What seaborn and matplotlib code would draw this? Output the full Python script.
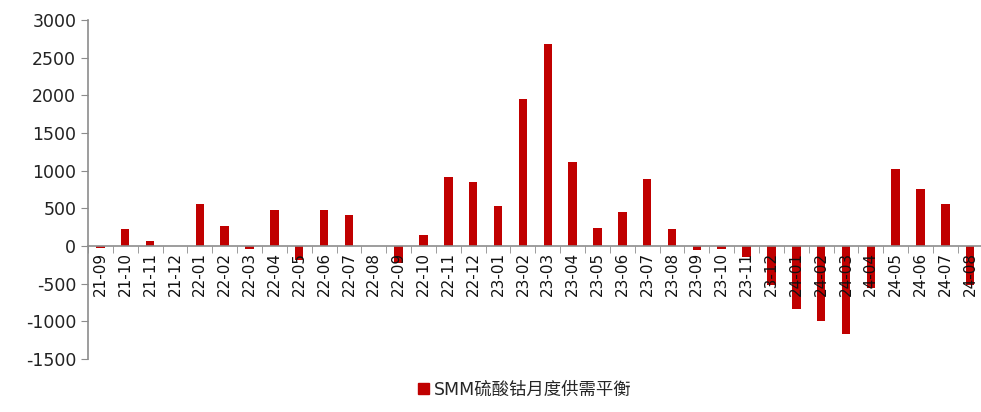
import numpy as np
import pandas as pd
import seaborn as sns
import matplotlib.pyplot as plt
from matplotlib.patches import Patch

months = [
    "21-09", "21-10", "21-11", "21-12",
    "22-01", "22-02", "22-03", "22-04", "22-05", "22-06", "22-07", "22-08",
    "22-09", "22-10", "22-11", "22-12",
    "23-01", "23-02", "23-03", "23-04", "23-05", "23-06", "23-07", "23-08",
    "23-09", "23-10", "23-11", "23-12",
    "24-01", "24-02", "24-03", "24-04", "24-05", "24-06", "24-07", "24-08",
]
balance = [
    -30, 220, 60, 0,
    560, 260, -40, 475, -180, 475, 410, 0,
    -230, 145, 920, 855,
    535, 1955, 2690, 1120, 240, 445, 890, 220,
    -60, -40, -150, -520,
    -840, -1000, -1170, -565, 1020, 760, 560, -520,
]
series_name = "SMM硫酸钴月度供需平衡"


def main() -> None:
    sns.set_style("white")
    plt.rcParams["font.family"] = ["DejaVu Sans", "Noto Sans CJK SC"]
    plt.rcParams["axes.unicode_minus"] = False

    df = pd.DataFrame({"month": months, "balance": balance})
    red = "#C00000"
    grey = "#8C8C8C"

    fig = plt.figure(figsize=(9.81, 4.12), dpi=100)
    ax = fig.add_axes([0.0897, 0.129, 0.912, 0.822])

    sns.barplot(data=df, x="month", y="balance", color=red, width=0.34,
                saturation=1, linewidth=0, ax=ax)

    ax.set_ylim(-1500, 3000)
    ax.set_yticks(np.arange(-1500, 3001, 500))
    ax.set_xlim(-0.5, len(months) - 0.5)
    ax.set_axisbelow(False)

    for side in ("top", "right"):
        ax.spines[side].set_visible(False)
    ax.spines["left"].set_color(grey)
    ax.spines["left"].set_linewidth(1.2)
    ax.spines["bottom"].set_position(("data", 0))
    ax.spines["bottom"].set_color(grey)
    ax.spines["bottom"].set_linewidth(1.2)

    ax.tick_params(axis="y", direction="out", length=5, color=grey,
                   labelsize=12.5, labelcolor="#222222", left=True)
    ax.tick_params(axis="x", which="major", length=0, labelsize=11,
                   labelrotation=90, pad=4, labelcolor="#111111")
    ax.set_xticks(np.arange(-0.5, len(months), 1), minor=True)
    ax.tick_params(axis="x", which="minor", length=5, color=grey,
                   direction="out", bottom=True)

    ax.set_xlabel("")
    ax.set_ylabel("")

    handle = Patch(facecolor=red, edgecolor=red)
    fig.legend([handle], [series_name], loc="lower center",
               bbox_to_anchor=(0.535, -0.005), frameon=False, fontsize=12.5,
               handlelength=0.6, handleheight=0.6, handletextpad=0.3)

    fig.savefig("out.png", dpi=100)


if __name__ == "__main__":
    main()
